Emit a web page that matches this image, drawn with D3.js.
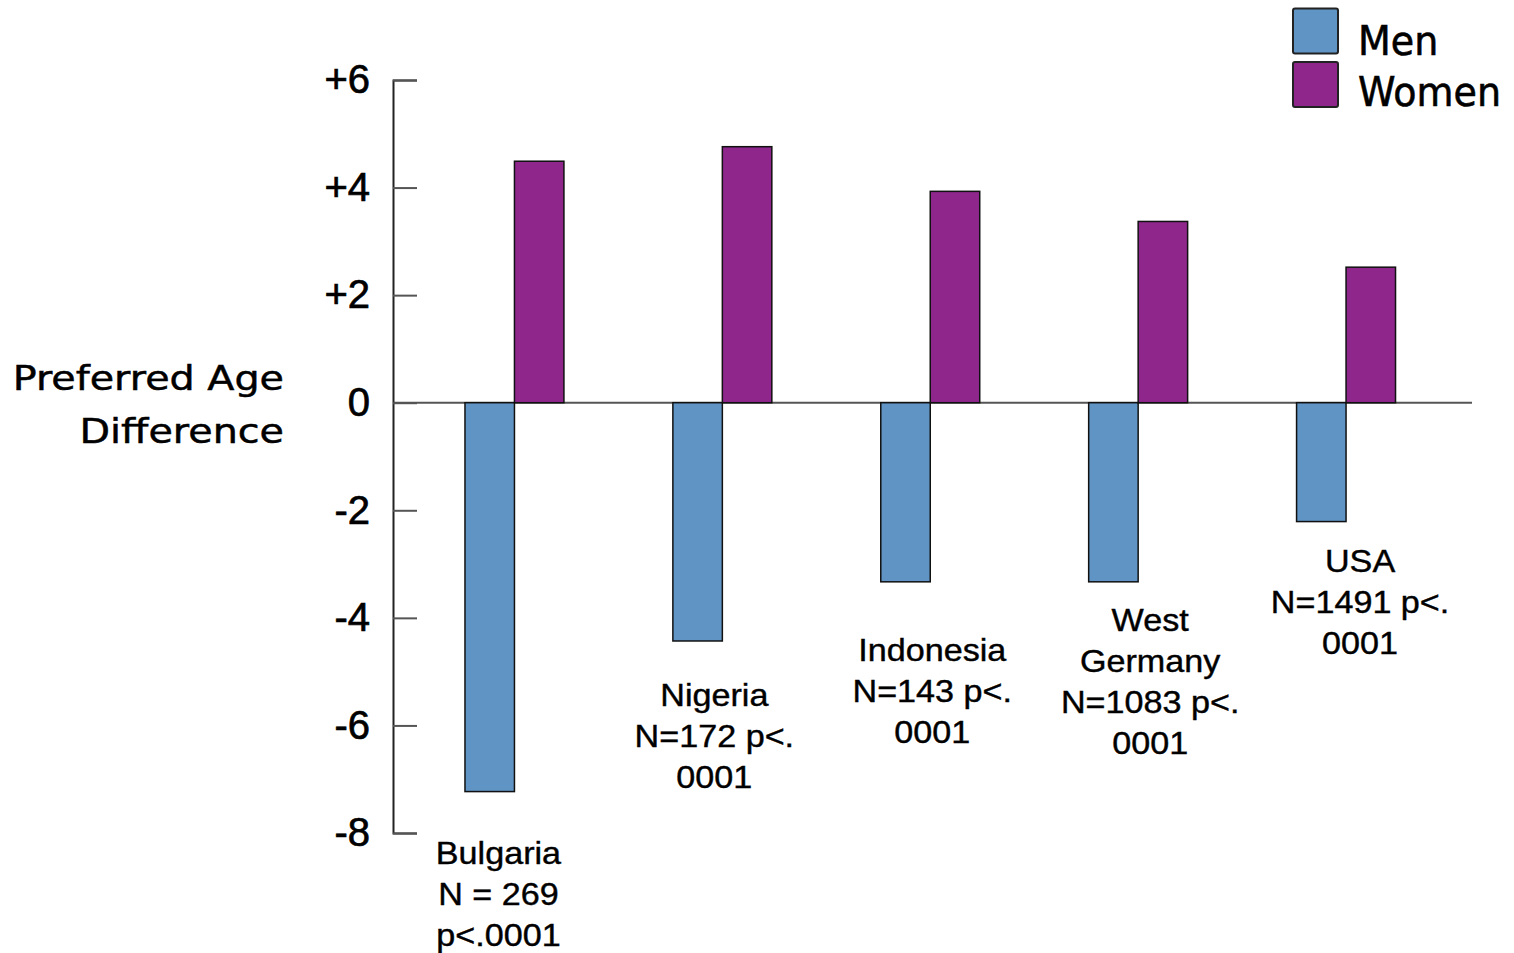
<!DOCTYPE html>
<html>
<head>
<meta charset="utf-8">
<script src="https://cdn.jsdelivr.net/npm/d3@7"></script>
<style>
  html, body { margin: 0; padding: 0; background: #ffffff; }
  svg { display: block; }
</style>
</head>
<body>
<svg id="chart" width="1514" height="953"></svg>
<script>
// ---- data ----
const countries = ["Bulgaria", "Nigeria", "Indonesia", "West Germany", "USA"];
const series = ["Men", "Women"];
const menValues = [-7.23, -4.43, -3.33, -3.33, -2.21];
const womenValues = [4.49, 4.76, 3.93, 3.37, 2.52];
const tickValues = [6, 4, 2, 0, -2, -4, -6, -8];
const tickLabels = ["+6", "+4", "+2", "0", "-2", "-4", "-6", "-8"];
const categoryLabels = [
  ["Bulgaria", "N = 269", "p<.0001"],
  ["Nigeria", "N=172 p<.", "0001"],
  ["Indonesia", "N=143 p<.", "0001"],
  ["West", "Germany", "N=1083 p<.", "0001"],
  ["USA", "N=1491 p<.", "0001"]
];
const yTitleLines = ["Preferred Age", "Difference"];

// ---- annotation layout (label anchor in data units, x shift in px) ----
const labelAnchorValue = [-8.57, -5.64, -4.80, -4.24, -3.14];
const labelShiftX = [-16, -8, 2, 12, 14];

// ---- layout ----
const colors = { Men: "#6094c4", Women: "#8e268c" };
const svg = d3.select("#chart");

const y = d3.scaleLinear().domain([-8, 6]).range([833, 80]);
const x = d3.scaleBand().domain(countries).range([410.5, 1450])
  .paddingInner(0.524).paddingOuter(0.262);
const xs = d3.scaleBand().domain(series).range([0, x.bandwidth()]);

const axisX = 393;

// zero line
svg.append("line")
  .attr("x1", axisX).attr("x2", 1472)
  .attr("y1", y(0)).attr("y2", y(0))
  .attr("stroke", "#555").attr("stroke-width", 2);

// bars
const rows = countries.map((c, i) => ({ country: c, Men: menValues[i], Women: womenValues[i] }));
const groups = svg.append("g").selectAll("g").data(rows).join("g")
  .attr("transform", d => `translate(${x(d.country)},0)`);
groups.selectAll("rect")
  .data(d => series.map(s => ({ key: s, value: d[s] })))
  .join("rect")
  .attr("x", d => xs(d.key))
  .attr("width", xs.bandwidth())
  .attr("y", d => y(Math.max(0, d.value)))
  .attr("height", d => Math.abs(y(d.value) - y(0)))
  .attr("fill", d => colors[d.key])
  .attr("stroke", "#111")
  .attr("stroke-width", 1.5);

// y axis
const axis = d3.axisLeft(y)
  .tickValues(tickValues)
  .tickFormat((d, i) => tickLabels[i])
  .tickSizeInner(-24)
  .tickSizeOuter(-24)
  .tickPadding(23);
const ag = svg.append("g").attr("transform", `translate(${axisX},0)`).call(axis);
ag.select(".domain").attr("stroke", "#222").attr("stroke-width", 2);
ag.selectAll(".tick line").attr("stroke", "#555").attr("stroke-width", 2);
ag.selectAll(".tick text")
  .attr("font-family", "'Liberation Sans', Arial, sans-serif")
  .attr("font-size", 40)
  .attr("fill", "#000")
  .attr("stroke", "#000").attr("stroke-width", 0.7);

// y title
const yt = svg.append("g").attr("transform", "translate(284,390) scale(1.15,1)");
yt.selectAll("text").data(yTitleLines).join("text")
  .attr("x", 0).attr("y", (d, i) => i * 53)
  .attr("text-anchor", "end")
  .attr("font-family", "'DejaVu Sans', Verdana, sans-serif")
  .attr("font-size", 34.5)
  .attr("fill", "#000")
  .attr("stroke", "#000").attr("stroke-width", 0.5);

yt.selectAll("text").text(d => d);

// category labels
countries.forEach((c, i) => {
  const cx = x(c) + x.bandwidth() / 2 + labelShiftX[i];
  const g = svg.append("g")
    .attr("transform", `translate(${cx},${y(labelAnchorValue[i])}) scale(1.12,1)`);
  g.selectAll("text").data(categoryLabels[i]).join("text")
    .attr("x", 0).attr("y", (d, j) => j * 41)
    .attr("text-anchor", "middle")
    .attr("font-family", "'Liberation Sans', Arial, sans-serif")
    .attr("font-size", 30.5)
    .attr("fill", "#000")
    .attr("stroke", "#000").attr("stroke-width", 0.4)
    .text(d => d);
});

// legend
const legend = svg.append("g");
series.forEach((s, i) => {
  legend.append("rect")
    .attr("x", 1293).attr("y", 8.5 + i * 53.5)
    .attr("width", 45).attr("height", 45)
    .attr("rx", 2)
    .attr("fill", colors[s])
    .attr("stroke", "#222").attr("stroke-width", 2);
  legend.append("text")
    .attr("transform", `translate(1358,${55 + i * 51}) scale(0.95,1)`)
    .attr("font-family", "'DejaVu Sans', Verdana, sans-serif")
    .attr("font-size", 40)
    .attr("fill", "#000")
    .attr("stroke", "#000").attr("stroke-width", 0.6)
    .text(s);
});
</script>
</body>
</html>
